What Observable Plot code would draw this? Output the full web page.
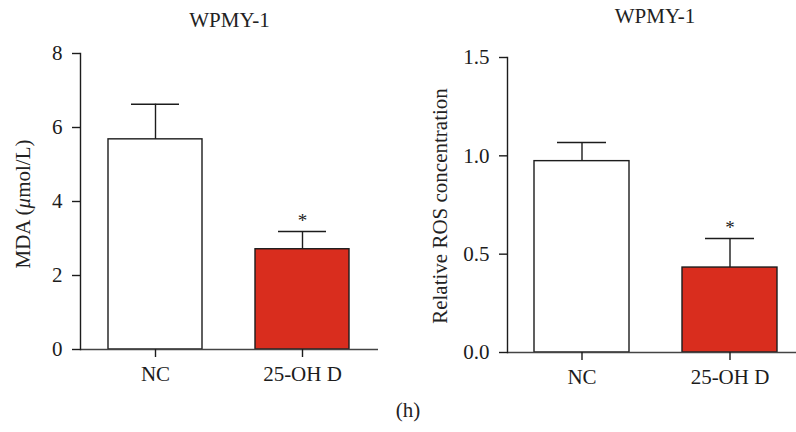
<!DOCTYPE html>
<html><head><meta charset="utf-8">
<script src="https://cdn.jsdelivr.net/npm/d3@7"></script>
<script src="https://cdn.jsdelivr.net/npm/@observablehq/plot@0.6"></script>
<style>
body{margin:0;background:#fff;}
#wrap{position:relative;width:796px;height:432px;font-family:"Liberation Serif","DejaVu Serif",serif;color:#222;overflow:hidden;}
.abs{position:absolute;white-space:nowrap;font-size:21px;line-height:21px;}
.c{transform:translate(-50%,-50%);}
.r{transform:translate(-50%,-50%) rotate(-90deg);}
.panel{position:absolute;top:0;}
</style></head><body><div id="wrap"></div>
<script>
const groups = ["NC", "25-OH D"];
const mdaMean = [5.68, 2.71];
const mdaUpper = [6.63, 3.19];
const rosMean = [0.973, 0.432];
const rosUpper = [1.068, 0.58];
const mdaTicks = [0, 2, 4, 6, 8];
const rosTicks = [0, 0.5, 1.0, 1.5];
const barFills = ["#ffffff", "#d92d1e"];
const sigMarks = ["", "*"];
const titles = ["WPMY-1", "WPMY-1"];
const yLabels = ["MDA (<i>μ</i>mol/L)", "Relative ROS concentration"];
const panelLabel = "(h)";

const wrap = document.getElementById("wrap");
const ink = "#1c1c1c";

function panel({means, uppers, ticks, domain, fmt, width, mL, mR, mT, mB, xOpts}) {
  const data = groups.map((g, i) => ({group: g, mean: means[i], upper: uppers[i], fill: barFills[i], sig: sigMarks[i]}));
  return Plot.plot({
    width, height: 432,
    marginLeft: mL, marginRight: mR, marginTop: mT, marginBottom: mB,
    style: {fontFamily: '"Liberation Serif","DejaVu Serif",serif', fontSize: "21px", color: ink, background: "transparent"},
    x: {domain: groups, ...xOpts, axis: null},
    y: {domain, axis: null},
    marks: [
      Plot.barY(data, {x: "group", y: "mean", fill: "fill", stroke: ink, strokeWidth: 1.4}),
      Plot.ruleX(data, {x: "group", y1: "mean", y2: "upper", stroke: ink, strokeWidth: 1.4}),
      Plot.tickY(data, {x: "group", y: "upper", stroke: ink, strokeWidth: 1.4, insetLeft: 23, insetRight: 23}),
      Plot.text(data, {x: "group", y: "upper", text: "sig", dy: -11, fontSize: 19, fill: ink}),
      Plot.ruleY([0], {stroke: "#444", strokeWidth: 1.4}),
      Plot.frame({anchor: "left", stroke: ink, strokeWidth: 1.4}),
      Plot.axisY({ticks, tickSize: 8, tickPadding: 10, tickFormat: fmt, label: null, stroke: ink, strokeWidth: 1.4, fill: ink}),
      Plot.axisX({tickSize: 8, tickPadding: 9, label: null, stroke: ink, strokeWidth: 1.4, fill: ink})
    ]
  });
}

const left = panel({means: mdaMean, uppers: mdaUpper, ticks: mdaTicks, domain: [0, 8], fmt: d3.format("d"),
  width: 400, mL: 80, mR: 22, mT: 53, mB: 83, xOpts: {paddingInner: 0.358, paddingOuter: 0.186}});
left.classList.add("panel"); left.style.left = "0px";
const right = panel({means: rosMean, uppers: rosUpper, ticks: rosTicks, domain: [0, 1.5], fmt: d3.format(".1f"),
  width: 396, mL: 107, mR: 0, mT: 57, mB: 80, xOpts: {paddingInner: 0.36, paddingOuter: 0.154, align: 0.59}});
right.classList.add("panel"); right.style.left = "400px";
wrap.appendChild(left);
wrap.appendChild(right);

function addText(html, x, y, cls) {
  const d = document.createElement("div");
  d.className = "abs " + cls;
  d.style.left = x + "px"; d.style.top = y + "px";
  d.innerHTML = html;
  wrap.appendChild(d);
}
addText(titles[0], 229.5, 20, "c");
addText(titles[1], 655, 16, "c");
addText(yLabels[0], 23, 204, "r");
addText(yLabels[1], 440, 206, "r");
addText(panelLabel, 408, 410, "c");
</script></body></html>
